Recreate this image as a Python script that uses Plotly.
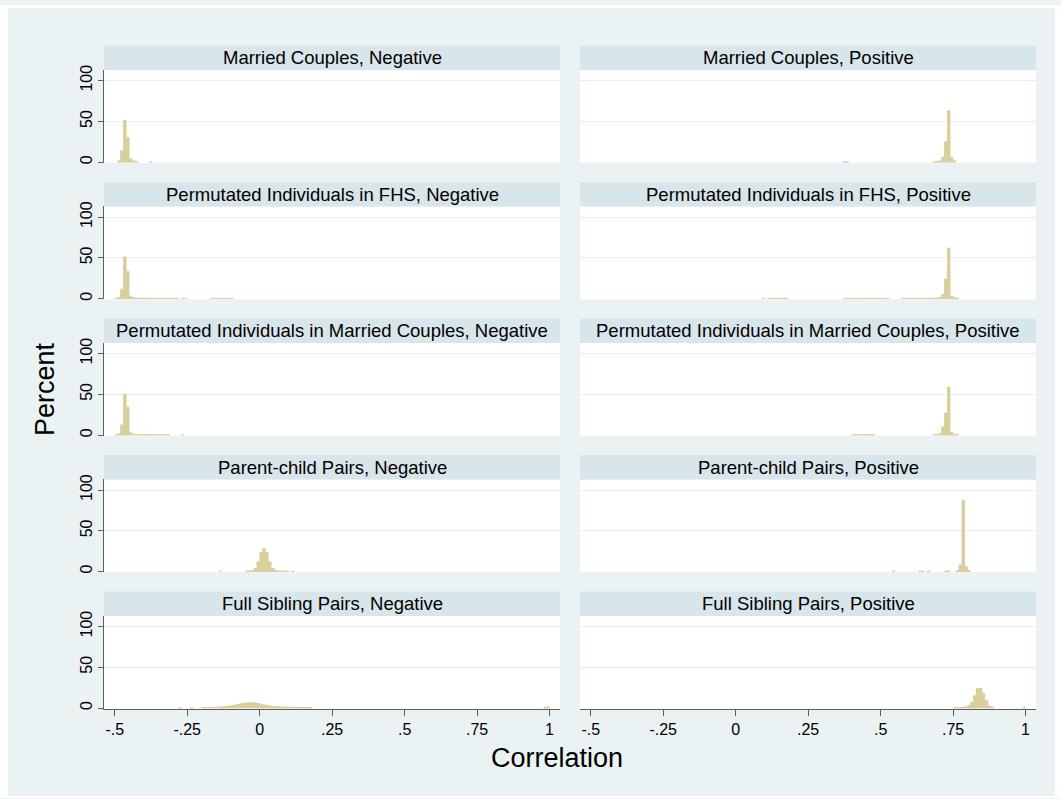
import plotly.graph_objects as go

# ---- histogram data: bin centres (correlation) and percent per bin ----
mc_neg_bins = [-0.485, -0.475, -0.465, -0.455, -0.445, -0.435, -0.425, -0.375]
mc_neg_pct = [1.5, 14, 51, 30, 4, 1.5, 0.5, 0.6]

mc_pos_bins = [0.375, 0.385, 0.685, 0.695, 0.705, 0.715, 0.725, 0.735, 0.745, 0.755]
mc_pos_pct = [0.6, 0.6, 0.6, 1, 1.5, 6, 25, 63, 6, 1.5]

fhs_neg_bins = [-0.495, -0.485, -0.475, -0.465, -0.455, -0.445, -0.435, -0.425,
                -0.415, -0.405, -0.395, -0.385, -0.375, -0.365, -0.355, -0.345,
                -0.335, -0.325, -0.315, -0.305, -0.295, -0.285, -0.265, -0.255,
                -0.165, -0.155, -0.145, -0.135, -0.125, -0.115, -0.105, -0.095]
fhs_neg_pct = [0.5, 1.5, 11.5, 51, 33, 3, 1, 0.6,
               0.5, 0.5, 0.5, 0.4, 0.4, 0.4, 0.4, 0.4,
               0.4, 0.4, 0.4, 0.4, 0.4, 0.4, 0.3, 0.3,
               0.3, 0.3, 0.3, 0.3, 0.3, 0.3, 0.3, 0.3]

fhs_pos_bins = [0.095, 0.115, 0.125, 0.135, 0.145, 0.155, 0.165, 0.175,
                0.375, 0.385, 0.395, 0.405, 0.415, 0.425, 0.435, 0.445,
                0.455, 0.465, 0.475, 0.485, 0.495, 0.505, 0.515, 0.525,
                0.575, 0.585, 0.595, 0.605, 0.615, 0.625, 0.635, 0.645,
                0.655, 0.665, 0.675, 0.685, 0.695, 0.705, 0.715, 0.725,
                0.735, 0.745, 0.755, 0.765]
fhs_pos_pct = [0.3, 0.4, 0.4, 0.4, 0.4, 0.4, 0.4, 0.4,
               0.3, 0.3, 0.3, 0.3, 0.3, 0.3, 0.3, 0.3,
               0.3, 0.3, 0.3, 0.3, 0.3, 0.3, 0.3, 0.3,
               0.4, 0.4, 0.4, 0.4, 0.4, 0.4, 0.4, 0.4,
               0.4, 0.4, 0.5, 0.6, 0.8, 1.2, 5, 24,
               62, 3, 1, 0.5]

mcp_neg_bins = [-0.495, -0.485, -0.475, -0.465, -0.455, -0.445, -0.435, -0.425,
                -0.415, -0.405, -0.395, -0.385, -0.375, -0.365, -0.355, -0.345,
                -0.335, -0.325, -0.315, -0.265]
mcp_neg_pct = [0.5, 1.5, 12.5, 50, 34, 3, 1, 0.6,
               0.4, 0.4, 0.4, 0.4, 0.4, 0.4, 0.4, 0.4,
               0.4, 0.4, 0.4, 0.3]

mcp_pos_bins = [0.405, 0.415, 0.425, 0.435, 0.445, 0.455, 0.465, 0.475,
                0.685, 0.695, 0.705, 0.715, 0.725, 0.735, 0.745, 0.755, 0.765]
mcp_pos_pct = [0.4, 0.4, 0.4, 0.4, 0.4, 0.4, 0.4, 0.4,
               0.5, 0.8, 1.5, 10, 27, 58.5, 3, 1, 0.5]

pc_neg_bins = [-0.135, -0.045, -0.035, -0.025, -0.015, -0.005, 0.005, 0.015,
               0.025, 0.035, 0.045, 0.055, 0.065, 0.075, 0.085, 0.095, 0.115]
pc_neg_pct = [0.5, 0.6, 0.8, 1.2, 4, 12, 23, 28,
              23, 12, 4, 1.5, 0.8, 0.6, 0.5, 0.5, 0.5]

pc_pos_bins = [0.545, 0.635, 0.645, 0.665, 0.725, 0.735, 0.765, 0.775, 0.785,
               0.795, 0.805]
pc_pos_pct = [0.6, 0.6, 0.6, 0.6, 0.6, 0.6, 1, 8, 87.5, 6, 1]

fs_neg_bins = [-0.275, -0.235, -0.195, -0.185, -0.175, -0.165, -0.155, -0.145,
               -0.135, -0.125, -0.115, -0.105, -0.095, -0.085, -0.075, -0.065,
               -0.055, -0.045, -0.035, -0.025, -0.015, -0.005, 0.005, 0.015,
               0.025, 0.035, 0.045, 0.055, 0.065, 0.075, 0.085, 0.095,
               0.105, 0.115, 0.125, 0.135, 0.145, 0.155, 0.165, 0.175,
               0.985, 0.995]
fs_neg_pct = [0.4, 0.4, 0.5, 0.6, 0.7, 0.8, 0.9, 1.1,
              1.3, 1.5, 1.9, 2.4, 3.0, 3.7, 4.4, 5.1,
              5.7, 6.2, 6.5, 6.4, 6.1, 5.4, 4.6, 3.9,
              3.2, 2.7, 2.2, 1.9, 1.6, 1.4, 1.2, 1.1,
              1.0, 0.9, 0.8, 0.7, 0.6, 0.6, 0.5, 0.5,
              1.2, 1.2]

fs_pos_bins = [0.755, 0.765, 0.775, 0.785, 0.795, 0.805, 0.815, 0.825, 0.835,
               0.845, 0.855, 0.865, 0.875, 0.885, 0.995]
fs_pos_pct = [0.5, 0.5, 0.7, 1, 1.5, 3, 7, 15, 24, 24, 18, 9, 2.5, 1, 0.8]

panel_titles = [
    "Married Couples, Negative", "Married Couples, Positive",
    "Permutated Individuals in FHS, Negative", "Permutated Individuals in FHS, Positive",
    "Permutated Individuals in Married Couples, Negative",
    "Permutated Individuals in Married Couples, Positive",
    "Parent-child Pairs, Negative", "Parent-child Pairs, Positive",
    "Full Sibling Pairs, Negative", "Full Sibling Pairs, Positive",
]
panel_data = [
    (mc_neg_bins, mc_neg_pct), (mc_pos_bins, mc_pos_pct),
    (fhs_neg_bins, fhs_neg_pct), (fhs_pos_bins, fhs_pos_pct),
    (mcp_neg_bins, mcp_neg_pct), (mcp_pos_bins, mcp_pos_pct),
    (pc_neg_bins, pc_neg_pct), (pc_pos_bins, pc_pos_pct),
    (fs_neg_bins, fs_neg_pct), (fs_pos_bins, fs_pos_pct),
]

x_tick_vals = [-0.5, -0.25, 0, 0.25, 0.5, 0.75, 1]
x_tick_text = ["-.5", "-.25", "0", ".25", ".5", ".75", "1"]
y_tick_vals = [0, 50, 100]
y_tick_text = ["0", "50", "100"]

# ---- styling ----
W, H = 1061, 799
FONT = "Liberation Sans, Arial, sans-serif"
BG = "#EAF2F3"
STRIP = "#D8E5EA"
GRID = "#E6EEF1"
AXIS = "#5E5E5E"
BAR = "#D8CF9C"
BIN_W = 0.0085

col_left = [(104, 560), (580, 1036)]
ROW_TOP0, ROW_H, ROW_STEP, STRIP_H = 65.5, 93.5, 137.5, 24.5
X_RANGE = [-0.537, 1.036]
Y_RANGE = [-0.8, 113]


def px_x(v):
    return v / W


def px_y(v):
    return 1 - v / H


fig = go.Figure()
layout = {}
shapes = []
annotations = []

for i, (title, (bins, pct)) in enumerate(zip(panel_titles, panel_data)):
    r, c = divmod(i, 2)
    n = i + 1
    xname = "x" if n == 1 else f"x{n}"
    yname = "y" if n == 1 else f"y{n}"
    top = ROW_TOP0 + r * ROW_STEP
    bot = top + ROW_H
    x0, x1 = col_left[c]

    fig.add_trace(go.Bar(
        x=bins, y=pct, width=BIN_W,
        marker=dict(color=BAR, line=dict(color=BAR, width=1)),
        xaxis=xname, yaxis=yname, showlegend=False, hoverinfo="x+y",
    ))

    bottom_row = r == 4
    layout["xaxis" if n == 1 else f"xaxis{n}"] = dict(
        domain=[px_x(x0), px_x(x1)], anchor=yname, range=X_RANGE,
        showgrid=False, zeroline=False,
        showline=bottom_row, linecolor=AXIS, linewidth=1,
        ticks="outside" if bottom_row else "", ticklen=6, tickcolor=AXIS,
        tickvals=x_tick_vals, ticktext=x_tick_text,
        showticklabels=bottom_row,
        tickfont=dict(family=FONT, size=16, color="black"),
    )
    left_col = c == 0
    layout["yaxis" if n == 1 else f"yaxis{n}"] = dict(
        domain=[px_y(bot), px_y(top)], anchor=xname, range=Y_RANGE,
        showgrid=True, gridcolor=GRID, gridwidth=1.3, zeroline=False,
        showline=left_col, linecolor=AXIS, linewidth=1,
        ticks="outside" if left_col else "", ticklen=5, tickcolor=AXIS,
        tickvals=y_tick_vals, ticktext=y_tick_text, tickangle=-90,
        showticklabels=left_col,
        tickfont=dict(family=FONT, size=16, color="black"),
    )

    # panel header strip
    shapes.append(dict(
        type="rect", xref="paper", yref="paper",
        x0=px_x(x0), x1=px_x(x1), y0=px_y(top), y1=px_y(top - STRIP_H),
        fillcolor=STRIP, line=dict(width=0), layer="below",
    ))
    annotations.append(dict(
        text=title, xref="paper", yref="paper",
        x=px_x((x0 + x1) / 2), y=px_y(top - STRIP_H / 2),
        xanchor="center", yanchor="middle", showarrow=False,
        font=dict(family=FONT, size=18.5, color="black"),
    ))

# thin white frame around the graph region
for sx0, sy0, sx1, sy1 in [(0, 0, W, 3), (0, 0, 8, H), (1055, 0, W, H), (0, 797, W, H)]:
    shapes.append(dict(
        type="rect", xref="paper", yref="paper",
        x0=px_x(sx0), x1=px_x(sx1), y0=px_y(sy1), y1=px_y(sy0),
        fillcolor="white", line=dict(width=0), layer="above",
    ))

annotations.append(dict(
    text="Percent", xref="paper", yref="paper", x=px_x(45), y=px_y(387),
    xanchor="center", yanchor="middle", textangle=-90, showarrow=False,
    font=dict(family=FONT, size=27, color="black"),
))
annotations.append(dict(
    text="Correlation", xref="paper", yref="paper", x=px_x(557), y=px_y(759),
    xanchor="center", yanchor="middle", showarrow=False,
    font=dict(family=FONT, size=27, color="black"),
))

fig.update_layout(
    width=W, height=H, autosize=False,
    margin=dict(l=0, r=0, t=0, b=0),
    paper_bgcolor=BG, plot_bgcolor="white",
    barmode="overlay",
    shapes=shapes, annotations=annotations,
    font=dict(family=FONT, color="black"),
    **layout,
)

fig.write_html("out.html", config={"displayModeBar": False})
